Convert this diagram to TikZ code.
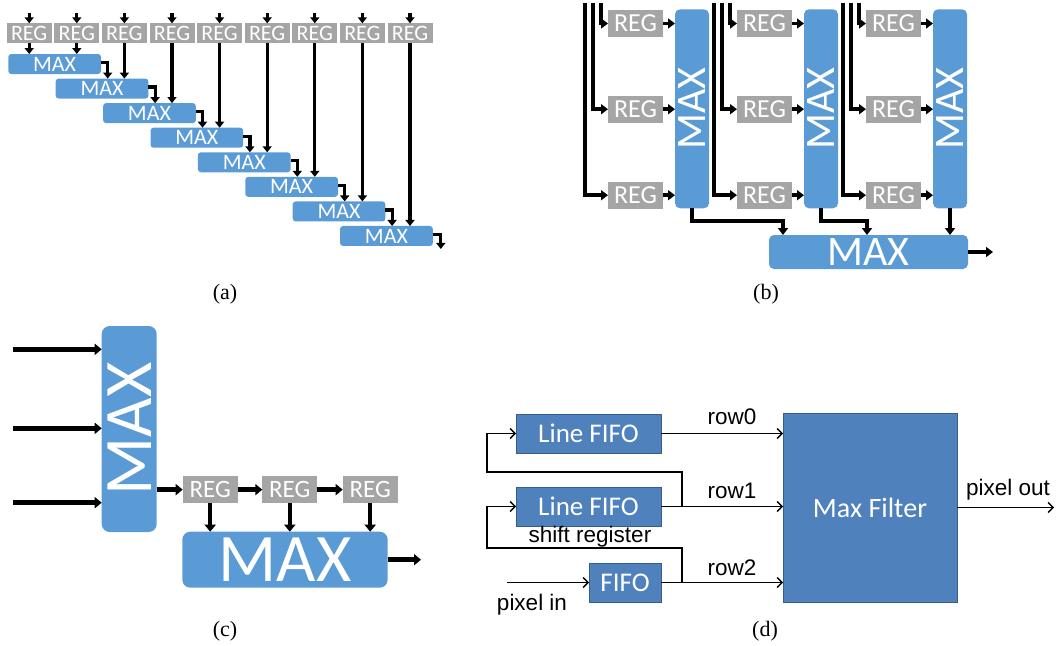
\documentclass[tikz,border=0pt]{standalone}
\usepackage{fontspec}
\setmainfont{Carlito}
\newfontfamily\arialf{Liberation Sans}
\newfontfamily\timesf{Liberation Serif}
\usetikzlibrary{arrows.meta,calc}
\definecolor{mxblue}{HTML}{5B9BD5}
\definecolor{reggray}{HTML}{A5A5A5}
\definecolor{dblue}{HTML}{4F81BD}
\definecolor{dborder}{HTML}{385D8A}
\newcommand{\fsz}[1]{\fontsize{#1}{#1}\selectfont}
\begin{document}
\begin{tikzpicture}[x=1pt,y=-1pt,
  box/.style={anchor=north west, inner sep=0pt, outer sep=0pt, text=white},
  regbox/.style={box, fill=reggray},
  maxbox/.style={box, fill=mxblue},
  arr/.style={line width=3.2pt, -{Triangle[length=6pt,width=9pt]}},
  arrb/.style={line width=3.8pt, -{Triangle[length=7pt,width=10pt]}},
  arrc/.style={line width=4.5pt, -{Triangle[length=7pt,width=11pt]}},
  fbox/.style={box, fill=dblue, draw=dborder, line width=0.8pt, font=\fsz{27}},
  darr/.style={line width=1.4pt, -{Straight Barb[length=5pt,width=10pt]}},
  lbl/.style={inner sep=0pt, font=\arialf\fsz{22.5}},
  captxt/.style={inner sep=0pt, font=\timesf\fsz{22}}
]
\useasboundingbox (0,0) rectangle (1056,645);

% ---------------- (a) ----------------
\foreach \i in {0,...,8} {
  \node[regbox, minimum width=45pt, minimum height=20pt, font=\fsz{22}] (ra\i) at ({6.7+47.6*\i}, 23.3) {REG};
  \coordinate (ta\i) at ($(ra\i.north)+(0,-10.3)$);
  \draw[arr] (ta\i) -- (ra\i.north);
}
\foreach \j in {0,...,7} {
  \node[maxbox, rounded corners=3pt, minimum width=92.7pt, minimum height=20pt, font=\fsz{22}] (ma\j) at ({8.3+47.4*\j}, {54+24.57*\j}) {MAX};
}
\draw[arr] (ra0.south) -- (ra0.south |- ma0.north);
\draw[arr] (ra1.south) -- (ra1.south |- ma0.north);
\foreach \k [evaluate=\k as \j using int(\k-1)] in {2,...,8} {
  \draw[arr] (ra\k.south) -- (ra\k.south |- ma\j.north);
}
\foreach \j [evaluate=\j as \k using int(\j+1)] in {0,...,6} {
  \coordinate (ea\j) at ($(ma\j.east)+(6.7,-1.5)$);
  \draw[arr] ($(ma\j.east)+(0,-1.5)$) -| (ea\j |- ma\k.north);
}
\coordinate (ea7) at ($(ma7.east)+(8,13)$);
\draw[arr] ($(ma7.east)+(0,-1.5)$) -| (ea7);
\node[captxt] (capa) at (225,294) {(a)};

% ---------------- (b) ----------------
\foreach \g in {0,1,2} {
  \node[maxbox, rounded corners=5pt, minimum width=34pt, minimum height=199pt] (mb\g) at ({675+129*\g}, 9.3) {};
  \node[rotate=90, inner sep=0pt, text=white, font=\fsz{42}] (mbt\g) at (mb\g.center) {MAX};
  \foreach \r/\yy in {1/10, 2/95.7, 3/181.7} {
    \node[regbox, minimum width=55pt, minimum height=27pt, font=\fsz{26}] (rb\g\r) at ({608+129*\g}, \yy) {REG};
    \draw[arrb] (rb\g\r.east) -- (rb\g\r.east -| mb\g.west);
  }
  \coordinate (bia\g) at ({585+129*\g}, 3);
  \coordinate (bib\g) at ({592.7+129*\g}, 3);
  \coordinate (bic\g) at ({600.7+129*\g}, 3);
  \draw[arrb] (bia\g) |- (rb\g3.west);
  \draw[arrb] (bib\g) |- (rb\g2.west);
  \draw[arrb] (bic\g) |- (rb\g1.west);
}
\node[maxbox, rounded corners=5pt, minimum width=199pt, minimum height=34pt, font=\fsz{42}] (mbb) at (769,235) {MAX};
\coordinate (bk0) at (692,221);
\coordinate (bk0e) at (783,221);
\coordinate (bk1) at (821,221);
\coordinate (bk1e) at (867,221);
\draw[arrb] (mb0.south) -- (bk0) -- (bk0e) -- (bk0e |- mbb.north);
\draw[arrb] (mb1.south) -- (bk1) -- (bk1e) -- (bk1e |- mbb.north);
\draw[arrb] (mb2.south) -- (mb2.south |- mbb.north);
\coordinate (bout) at (993,252);
\draw[arrb] (mbb.east) -- (bout);
\node[captxt] (capb) at (766,294) {(b)};

% ---------------- (c) ----------------
\node[maxbox, rounded corners=8pt, minimum width=55pt, minimum height=206pt] (cmax) at (101.7,326) {};
\node[rotate=90, inner sep=0pt, text=white, font=\fsz{68}] (cmaxt) at (cmax.center) {MAX};
\foreach \n/\yy in {1/349.3, 2/428.3, 3/502.7} {
  \coordinate (ci\n) at (13,\yy);
  \draw[arrc] (ci\n) -- (ci\n -| cmax.west);
}
\foreach \n/\xx in {1/182.7, 2/262.3, 3/342.7} {
  \node[regbox, minimum width=55pt, minimum height=27.3pt, font=\fsz{25}] (rc\n) at (\xx,476) {REG};
}
\node[maxbox, rounded corners=8pt, minimum width=205.4pt, minimum height=56pt, font=\fsz{68}] (cbm) at (182.3,531.7) {MAX};
\draw[arrc] (rc1.west -| cmax.east) -- (rc1.west);
\draw[arrc] (rc1.east) -- (rc2.west);
\draw[arrc] (rc2.east) -- (rc3.west);
\foreach \n in {1,2,3} {
  \draw[arrc] (rc\n.south) -- (rc\n.south |- cbm.north);
}
\coordinate (cout) at (421,559.7);
\draw[arrc] (cbm.east) -- (cout);
\node[captxt] (capc) at (225,631) {(c)};

% ---------------- (d) ----------------
\node[fbox, minimum width=145pt, minimum height=39pt] (lf1) at (516,414) {Line FIFO};
\node[fbox, minimum width=145pt, minimum height=39pt] (lf2) at (516,487) {Line FIFO};
\node[fbox, minimum width=72pt, minimum height=39pt] (ff) at (589,563) {FIFO};
\node[fbox, minimum width=174pt, minimum height=189pt, font=\fsz{28}] (mf) at (783,413) {Max Filter};
\draw[darr] (lf1.east) -- (lf1.east -| mf.west);
\draw[darr] (lf2.east) -- (lf2.east -| mf.west);
\draw[darr] (ff.east) -- (ff.east -| mf.west);
\coordinate (j1) at ($(lf2.east)+(21,0)$);
\coordinate (fb1) at (487,472);
\draw[darr] (j1) |- (fb1) |- (lf1.west);
\coordinate (j2) at ($(ff.east)+(21,0)$);
\coordinate (fb2) at (487,548);
\draw[darr] (j2) |- (fb2) |- (lf2.west);
\coordinate (pin) at (507,582.5);
\draw[darr] (pin) -- (ff.west);
\coordinate (pout) at (1054,507.5);
\draw[darr] (mf.east) -- (pout);
\node[lbl] (r0) at (732,417) {row0};
\node[lbl] (r1) at (732,491) {row1};
\node[lbl] (r2) at (732,568) {row2};
\node[lbl] (po) at (1008,490) {pixel out};
\node[lbl] (sr) at (590,537) {shift register};
\node[lbl] (pi) at (532,605) {pixel in};
\node[captxt] (capd) at (765,631) {(d)};
\end{tikzpicture}
\end{document}
